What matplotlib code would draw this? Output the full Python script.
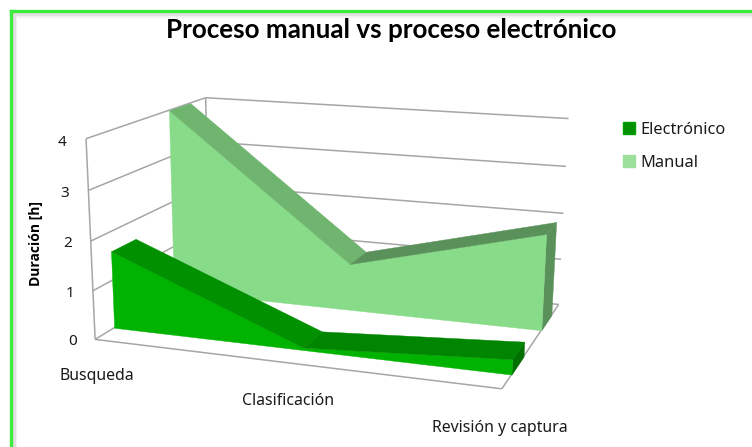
import numpy as np
import matplotlib
matplotlib.use("Agg")
import matplotlib.pyplot as plt
from matplotlib.lines import Line2D
from matplotlib.patches import Patch
from mpl_toolkits.mplot3d import proj3d
from mpl_toolkits.mplot3d.art3d import Poly3DCollection, Line3DCollection

categories = ["Busqueda", "Clasificación", "Revisión y captura"]
electronico = [1.6, 0.05, 0.3]
manual = [4.0, 1.0, 2.0]
z_ticks = [0, 1, 2, 3, 4]

W, H = 752, 447
fig = plt.figure(figsize=(W / 100, H / 100), dpi=100, facecolor="white")
ax = fig.add_axes([0, 0, 1, 1], projection="3d", computed_zorder=False)
ax.patch.set_alpha(0)
ax.set_axis_off()
ax.apply_aspect = lambda *a, **k: None

# Camera of the chart: where the corners of the plot box fall on the picture
box = np.array([(0, 0, 0), (2, 0, 0), (2, 2, 0), (0, 0, 4), (0, 2, 4), (2, 2, 4), (0, 2, 0)], float)
pix = np.array([(96, 338), (502, 390), (559, 303), (85, 139), (207, 97), (568, 119), (208, 271)], float)


def camera():
    uv = ax.transData.inverted().transform(np.c_[pix[:, 0], H - pix[:, 1]])
    A, b = [], []
    for (x, y, z), (u, v) in zip(box, uv):
        A.append([x, y, z, 1, 0, 0, 0, 0, -u * x, -u * y, -u * z]); b.append(u)
        A.append([0, 0, 0, 0, x, y, z, 1, -v * x, -v * y, -v * z]); b.append(v)
    p = np.linalg.lstsq(np.array(A), np.array(b), rcond=None)[0]
    return np.array([p[:4], p[4:8], [0, 1, 0, 0], [p[8], p[9], p[10], 1.0]])


ax.get_proj = camera
ax.set_xlim(0, 2)
ax.set_ylim(0, 2)
ax.set_zlim(0, 4)

GRID = "#a6a6a6"


def label(x, y, z, s, **kw):
    u, v, _ = proj3d.proj_transform(x, y, z, camera())
    ax.text2D(u, v, s, transform=ax.transData, ha="center", va="center", zorder=10, **kw)


segments = []
for t in z_ticks:
    segments.append([(0, 0, t), (0, 2, t)])
    segments.append([(0, 2, t), (2, 2, t)])
    label(-0.127, 0, t - 0.1, str(t), fontsize=11, family="Noto Sans", color="#1a1a1a")
segments += [[(0, 0, 0), (0, 0, 4)], [(0, 2, 0), (0, 2, 4)], [(0, 0, 0), (2, 0, 0)], [(2, 0, 0), (2, 2, 0)]]
walls = Line3DCollection(segments, colors=GRID, linewidths=1.1)
walls.set_zorder(1)
ax.add_collection3d(walls, autolim=False)

x_vals = np.arange(len(categories), dtype=float)
for xv, name in zip(x_vals, categories):
    label(xv, 0, -0.76, name, fontsize=11.4, family="Noto Sans", color="#1a1a1a")


def poly(verts, color, z):
    c = Poly3DCollection([verts], facecolors=color, edgecolors=color, linewidths=0.3)
    c.set_zorder(z)
    ax.add_collection3d(c, autolim=False)


def area(values, y0, y1, front, tops, end, z):
    poly([(x_vals[-1], y0, 0), (x_vals[-1], y1, 0), (x_vals[-1], y1, values[-1]),
          (x_vals[-1], y0, values[-1])], end, z)
    verts = [(x, y0, v) for x, v in zip(x_vals, values)]
    verts += [(x_vals[-1], y0, 0), (x_vals[0], y0, 0)]
    poly(verts, front, z + 1)
    for i, col in enumerate(tops):
        poly([(x_vals[i], y0, values[i]), (x_vals[i + 1], y0, values[i + 1]),
              (x_vals[i + 1], y1, values[i + 1]), (x_vals[i], y1, values[i])], col, z + 2)


area(manual, 1.31, 1.70, "#88DB88", ["#6FB56F", "#5A915A"], "#5A915A", 3)
area(electronico, 0.29, 0.68, "#00B300", ["#009000", "#008500"], "#007000", 6)

# Chart frame
for off, col, lw in [(5, "#f2f2f2", 3), (3, "#e0e0e0", 2.2)]:
    fig.add_artist(Line2D([(10.5 + off) / W, 1], [1 - (10.5 + off) / H] * 2, color=col, lw=lw))
    fig.add_artist(Line2D([(10.5 + off) / W] * 2, [0, 1 - (10.5 + off) / H], color=col, lw=lw))
fig.add_artist(Line2D([10.5 / W, 1], [1 - 10.5 / H] * 2, color="#3CEB3C", lw=2.4))
fig.add_artist(Line2D([10.5 / W] * 2, [0, 1 - 10.5 / H], color="#3CEB3C", lw=2.4))

fig.text(391 / W, 1 - 30 / H, "Proceso manual vs proceso electrónico", ha="center", va="center",
         fontsize=18.7, fontweight="bold", family="Lato", color="black")
fig.text(36 / W, 1 - 243 / H, "Duración [h]", rotation=90, ha="center", va="center",
         fontsize=10, fontweight="bold", family="Open Sans", color="black")

handles = [Patch(facecolor="#009000", edgecolor="#00A000"), Patch(facecolor="#9ADF9A", edgecolor="#9ADF9A")]
fig.legend(handles, ["Electrónico", "Manual"], frameon=False, loc="upper left",
           bbox_to_anchor=(619.7 / W, 1 - 118.5 / H), prop={"family": "Noto Sans", "size": 11.8},
           handlelength=0.73, handleheight=0.73, handletextpad=0.36, labelspacing=1.05,
           borderpad=0.2, borderaxespad=0, labelcolor="#1a1a1a")

fig.savefig("out.png", dpi=100)
